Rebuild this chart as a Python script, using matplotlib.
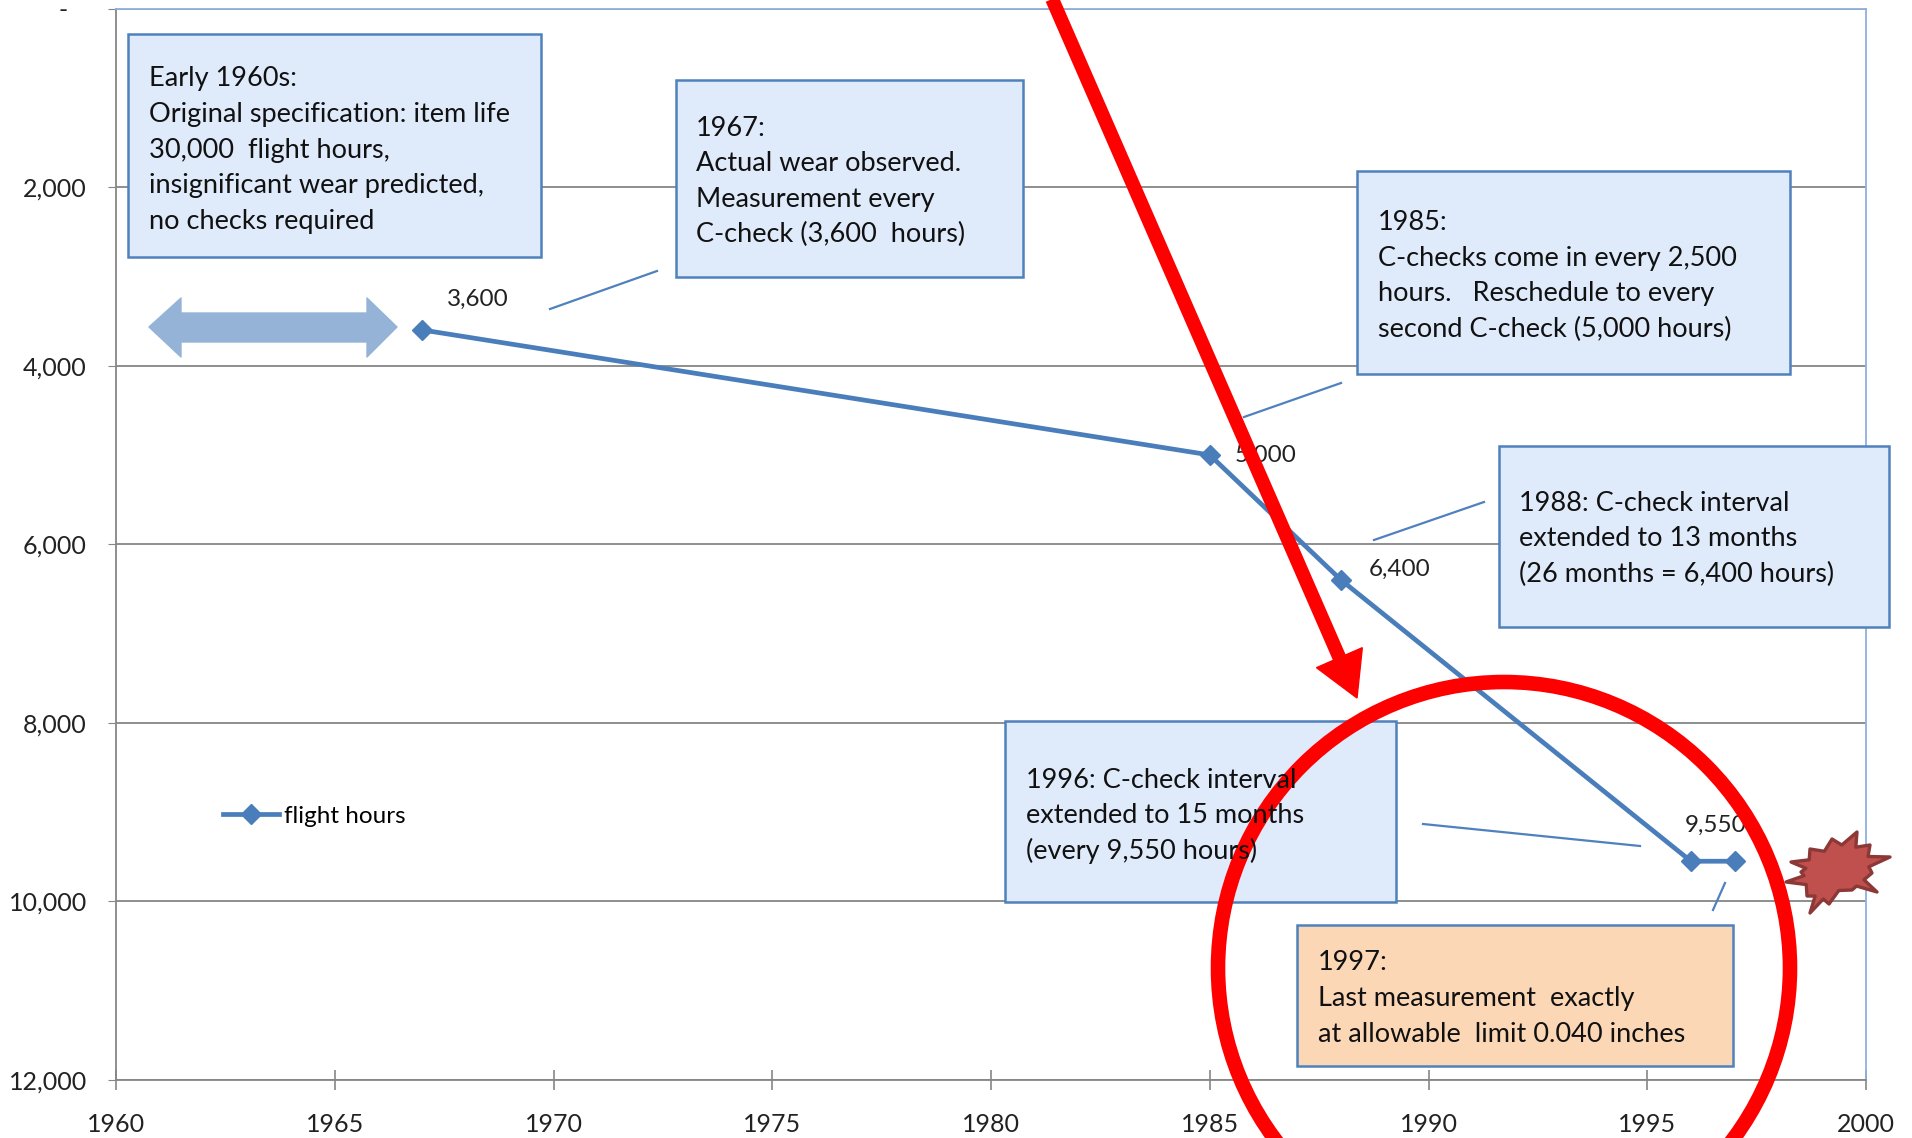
import matplotlib
matplotlib.use("Agg")
import matplotlib.pyplot as plt
from matplotlib.patches import Rectangle, Polygon, Ellipse
from matplotlib.ticker import FuncFormatter
import numpy as np

plt.rcParams['font.family'] = ['Lato', 'DejaVu Sans']

# data
years = [1967, 1985, 1988, 1996, 1997]
flight_hours = [3600, 5000, 6400, 9550, 9550]
point_labels = ["3,600", "5,000", "6,400", "", "9,550"]
label_offsets = [(40, 22), (18, 0), (20, 8), (0, 0), (-14, 26)]   # points
x_ticks = [1960, 1965, 1970, 1975, 1980, 1985, 1990, 1995, 2000]
y_ticks = [0, 2000, 4000, 6000, 8000, 10000, 12000]

# text boxes: rect (px), fill, text x, first baseline, line step, lines
boxes = [
    ((128, 34, 541, 257), '#dfeafa', 149, 86, 35.8,
     ["Early 1960s:", "Original specification: item life", "30,000  flight hours,",
      "insignificant wear predicted,", "no checks required"]),
    ((676, 80, 1023, 277), '#dfeafa', 696, 136, 35.4,
     ["1967:", "Actual wear observed.", "Measurement every", "C-check (3,600  hours)"]),
    ((1357, 171, 1790, 374), '#dfeafa', 1378, 230, 35.6,
     ["1985:", "C-checks come in every 2,500", "hours.   Reschedule to every",
      "second C-check (5,000 hours)"]),
    ((1499, 446, 1889, 627), '#dfeafa', 1519, 511, 35.4,
     ["1988: C-check interval", "extended to 13 months", "(26 months = 6,400 hours)"]),
    ((1005, 721, 1396, 902), '#dfeafa', 1026, 788, 35.4,
     ["1996: C-check interval", "extended to 15 months", "(every 9,550 hours)"]),
    ((1297, 925, 1733, 1066), '#fcd7b6', 1318, 970, 36.0,
     ["1997:", "Last measurement  exactly", "at allowable  limit 0.040 inches"]),
]
connectors = [((550, 309), (657, 271)), ((1244, 417), (1341, 383)),
              ((1374, 540), (1484, 502)), ((1423, 824), (1640, 846)),
              ((1725, 883), (1713, 910))]

W, H = 1912, 1138
fig = plt.figure(figsize=(W / 100, H / 100), dpi=100)
ax = fig.add_axes([116 / W, 1 - 1080 / H, (1866 - 116) / W, (1080 - 8.5) / H])

blue = '#4a7ebb'
grey = '#868686'
ax.plot(years, flight_hours, color=blue, lw=3.4, marker='D', ms=10,
        label='flight hours', zorder=3)
for x, y, t, off in zip(years, flight_hours, point_labels, label_offsets):
    if t:
        ax.annotate(t, (x, y), xytext=off, textcoords='offset points',
                    ha='left' if 0 < off[0] < 30 else 'center',
                    va='center', fontsize=17.5, color='#222222')

ax.set_xlim(1960, 2000)
ax.set_ylim(12000, 0)
ax.set_xticks(x_ticks)
ax.set_yticks(y_ticks)
ax.yaxis.set_major_formatter(FuncFormatter(lambda v, _: '-   ' if v == 0 else f'{int(v):,}'))
ax.tick_params(axis='y', direction='out', length=6, color=grey, pad=15,
               labelsize=18, labelcolor='#222222')
ax.tick_params(axis='x', direction='inout', length=14, color=grey, pad=17,
               labelsize=18, labelcolor='#222222', width=1.2)
ax.yaxis.grid(True, color=grey, lw=1.3)
ax.set_axisbelow(True)
for s in ['left', 'bottom']:
    ax.spines[s].set_color(grey)
    ax.spines[s].set_linewidth(1.3)
for s in ['top', 'right']:
    ax.spines[s].set_color('#8fb0dc')
    ax.spines[s].set_linewidth(1.3)

ax.legend(loc='center left', bbox_to_anchor=(223 / W, 1 - 816 / H),
          bbox_transform=fig.transFigure, frameon=False, fontsize=17.5,
          handlelength=2.3, handletextpad=0.2, borderpad=0, borderaxespad=0)

# overlay in figure pixels
ov = fig.add_axes([0, 0, 1, 1], zorder=5)
ov.set_xlim(0, W)
ov.set_ylim(H, 0)
ov.axis('off')

# double arrow
ov.add_patch(Polygon([(149, 327), (181, 298), (181, 313), (367, 313), (367, 298),
                      (397, 327), (367, 357), (367, 342), (181, 342), (181, 357)],
                     closed=True, facecolor='#95b3d7', edgecolor='#95b3d7',
                     lw=1, joinstyle='round'))

for (x0, y0, x1, y1), fc, tx, ty, step, lines in boxes:
    ov.add_patch(Rectangle((x0, y0), x1 - x0, y1 - y0, facecolor=fc,
                           edgecolor='#4f81bd', lw=1.8))
    for i, line in enumerate(lines):
        ov.text(tx, ty + i * step, line, fontsize=19.5, color='#111111',
                va='baseline', ha='left')
for (a, b) in connectors:
    ov.plot([a[0], b[0]], [a[1], b[1]], color='#4f81bd', lw=1.6)

# red arrow
tip = np.array([1357.0, 698.0])
start = np.array([1046.0, -15.0])
d = (tip - start) / np.linalg.norm(tip - start)
perp = np.array([d[1], -d[0]])
head_len, head_w = 44, 25
base = tip - head_len * d
ov.plot([start[0], base[0] + 4 * d[0]], [start[1], base[1] + 4 * d[1]],
        color='#ff0000', lw=10, solid_capstyle='butt')
ov.add_patch(Polygon([tip, base + head_w * perp, base - head_w * perp],
                     closed=True, facecolor='#ff0000', edgecolor='#ff0000', lw=1))

# red circle
ov.add_patch(Ellipse((1504, 968), 2 * 286, 2 * 286, facecolor='none',
                     edgecolor='#ff0000', lw=10.5))

# explosion star
c = np.array([1834.0, 872.0])
spikes = np.array([(1857, 832), (1870, 845), (1890, 857), (1872, 873), (1877, 892),
                   (1852, 890), (1829, 904), (1810, 913), (1807, 896), (1786, 882),
                   (1801, 872), (1791, 862), (1810, 849), (1832, 839)], dtype=float)
pts = []
for i in range(len(spikes)):
    p, q = spikes[i], spikes[(i + 1) % len(spikes)]
    pts.append(p)
    pts.append(c + 0.74 * ((p + q) / 2 - c))
ov.add_patch(Polygon(pts, closed=True, facecolor='#c0504d', edgecolor='#8c3836',
                     lw=2.4, joinstyle='round'))

fig.savefig('out.png', dpi=100)
